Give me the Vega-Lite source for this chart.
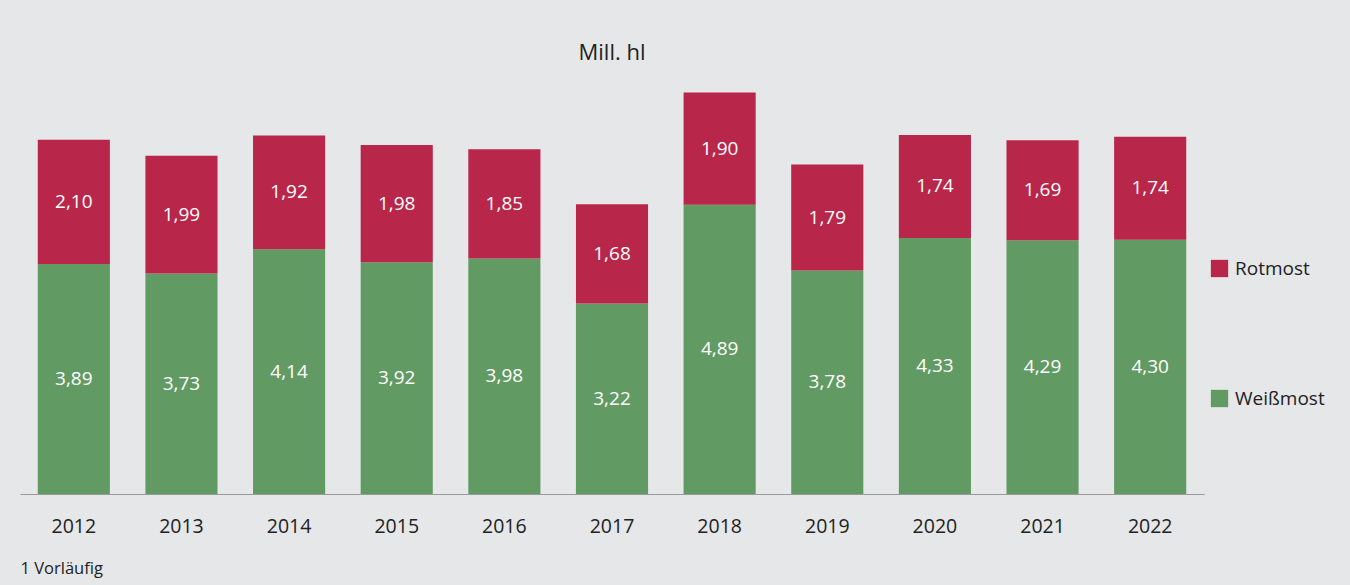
{
  "$schema": "https://vega.github.io/schema/vega-lite/v6.json",
  "autosize": "none",
  "width": 1184,
  "height": 414,
  "padding": {"left": 20, "top": 80, "right": 146, "bottom": 91},
  "background": "#e6e7e9",
  "config": {
    "view": {"stroke": null},
    "font": "Open Sans",
    "locale": {"number": {"decimal": ",", "thousands": ".", "grouping": [3], "currency": ["", " €"]}}
  },
  "title": {"text": "Mill. hl", "anchor": "middle", "fontSize": 22, "fontWeight": "normal", "color": "#222222", "offset": 15},
  "data": {
    "values": [
      {"jahr": "2012", "typ": "Weißmost", "wert": 3.89}, {"jahr": "2012", "typ": "Rotmost", "wert": 2.10},
      {"jahr": "2013", "typ": "Weißmost", "wert": 3.73}, {"jahr": "2013", "typ": "Rotmost", "wert": 1.99},
      {"jahr": "2014", "typ": "Weißmost", "wert": 4.14}, {"jahr": "2014", "typ": "Rotmost", "wert": 1.92},
      {"jahr": "2015", "typ": "Weißmost", "wert": 3.92}, {"jahr": "2015", "typ": "Rotmost", "wert": 1.98},
      {"jahr": "2016", "typ": "Weißmost", "wert": 3.98}, {"jahr": "2016", "typ": "Rotmost", "wert": 1.85},
      {"jahr": "2017", "typ": "Weißmost", "wert": 3.22}, {"jahr": "2017", "typ": "Rotmost", "wert": 1.68},
      {"jahr": "2018", "typ": "Weißmost", "wert": 4.89}, {"jahr": "2018", "typ": "Rotmost", "wert": 1.90},
      {"jahr": "2019", "typ": "Weißmost", "wert": 3.78}, {"jahr": "2019", "typ": "Rotmost", "wert": 1.79},
      {"jahr": "2020", "typ": "Weißmost", "wert": 4.33}, {"jahr": "2020", "typ": "Rotmost", "wert": 1.74},
      {"jahr": "2021", "typ": "Weißmost", "wert": 4.29}, {"jahr": "2021", "typ": "Rotmost", "wert": 1.69},
      {"jahr": "2022", "typ": "Weißmost", "wert": 4.30}, {"jahr": "2022", "typ": "Rotmost", "wert": 1.74}
    ]
  },
  "transform": [
    {"stack": "wert", "groupby": ["jahr"], "sort": [{"field": "typ", "order": "descending"}], "as": ["y0", "y1"]},
    {"calculate": "(datum.y0 + datum.y1) / 2", "as": "ymid"}
  ],
  "encoding": {
    "x": {
      "field": "jahr", "type": "ordinal",
      "scale": {"paddingInner": 0.33, "paddingOuter": 0.165},
      "axis": {
        "title": "1 Vorläufig", "titleAnchor": "start", "titleAlign": "left", "titleFontSize": 16.5,
        "titleFontWeight": "normal", "titleColor": "#222222", "titlePadding": 25,
        "labelAngle": 0, "labelFontSize": 19.5, "labelColor": "#222222", "labelPadding": 23,
        "ticks": false, "domainColor": "#9a9a9a", "domainWidth": 1.2
      }
    }
  },
  "layer": [
    {
      "mark": {"type": "bar"},
      "encoding": {
        "y": {"field": "y1", "type": "quantitative", "scale": {"domain": [0, 7]}, "axis": null},
        "y2": {"field": "y0"},
        "color": {
          "field": "typ", "type": "nominal",
          "scale": {"domain": ["Rotmost", "Weißmost"], "range": ["#b8264a", "#629a63"]},
          "legend": {
            "title": null, "orient": "none", "legendX": 1190, "legendY": 179,
            "symbolType": "square", "symbolSize": 300, "symbolStrokeWidth": 0,
            "labelFontSize": 19, "labelColor": "#222222", "labelOffset": 6,
            "rowPadding": 110
          }
        }
      }
    },
    {
      "mark": {"type": "text", "color": "white", "fontSize": 19, "baseline": "middle"},
      "encoding": {
        "y": {"field": "ymid", "type": "quantitative"},
        "text": {"field": "wert", "type": "quantitative", "format": ".2f"}
      }
    }
  ]
}
